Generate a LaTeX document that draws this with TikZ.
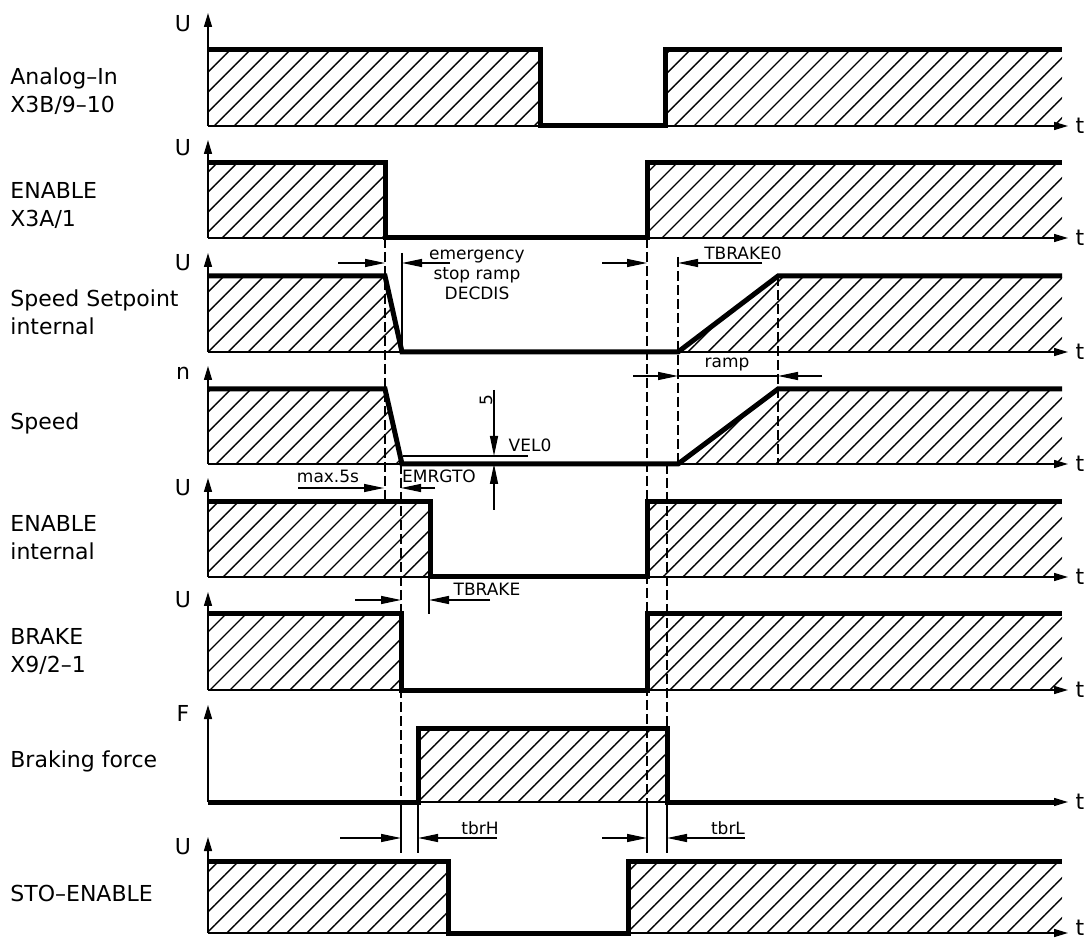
\documentclass[tikz,border=0pt]{standalone}
\usepackage{fontspec}
\setmainfont{DejaVu Sans}
\usetikzlibrary{arrows.meta,patterns.meta}
\tikzset{
  wave/.style={line width=2.5pt,line join=miter},
  hatched/.style={pattern={Lines[angle=45,distance=7.07pt,line width=0.7pt]}},
  axis/.style={line width=0.75pt,-{Triangle[length=7pt,width=4pt]}},
  dim/.style={line width=0.65pt,-{Triangle[length=10pt,width=4pt]}},
  guide/.style={line width=0.6pt,dash pattern=on 5pt off 2pt},
  tick/.style={line width=0.65pt},
  lbl/.style={anchor=west,align=left,inner sep=0pt,font=\fontsize{11}{14}\selectfont},
  sym/.style={inner sep=0pt,font=\fontsize{11}{14}\selectfont},
  dimtxt/.style={inner sep=0pt,align=center,font=\fontsize{8.5}{10}\selectfont}
}

\begin{document}
\begin{tikzpicture}[x=0.5pt,y=-0.5pt]
\useasboundingbox (0,0) rectangle (1087,940);
% hatched areas
\fill[hatched] (208,50) rectangle (540,126) (665,50) rectangle (1062,126);
\fill[hatched] (208,163) rectangle (385,238) (647,163) rectangle (1062,238);
\fill[hatched] (208,276) -- (385,276) -- (402,352) -- (208,352) -- cycle
               (678,352) -- (778,276) -- (1062,276) -- (1062,352) -- cycle;
\fill[hatched] (208,389) -- (385,389) -- (402,464) -- (208,464) -- cycle
               (678,464) -- (778,389) -- (1062,389) -- (1062,464) -- cycle;
\fill[hatched] (208,502) rectangle (430,577) (647,502) rectangle (1062,577);
\fill[hatched] (208,614) rectangle (401,690) (647,614) rectangle (1062,690);
\fill[hatched] (418,728) rectangle (667,802);
\fill[hatched] (208,861) rectangle (448,933) (628,861) rectangle (1062,933);
% axes
\foreach \b/\tp/\s/\sy/\ty in {126/13/U/24/126, 238/140/U/148/238, 352/253/U/263/352,
                               464/366/n/373/464, 577/478/U/488/577, 690/592/U/600/690,
                               802/705/F/713/802, 933/837/U/847/928} {
  \draw[axis] (208,\b) -- (208,\tp);
  \draw[axis] (208,\b) -- (1068,\b);
  \node[sym] (s\b) at (183,\sy) {\s};
  \node[sym] (t\b) at (1080,\ty) {t};
}
% signals
\draw[wave] (208,50) -- (540,50) -- (540,126) -- (665,126) -- (665,50) -- (1062,50);
\draw[wave] (208,163) -- (385,163) -- (385,238) -- (647,238) -- (647,163) -- (1062,163);
\draw[wave] (208,276) -- (385,276) -- (402,352) -- (678,352) -- (778,276) -- (1062,276);
\draw[wave] (208,389) -- (385,389) -- (402,464) -- (678,464) -- (778,389) -- (1062,389);
\draw[wave] (208,502) -- (430,502) -- (430,577) -- (647,577) -- (647,502) -- (1062,502);
\draw[wave] (208,614) -- (401,614) -- (401,690) -- (647,690) -- (647,614) -- (1062,614);
\draw[wave] (208,802) -- (418,802) -- (418,728) -- (667,728) -- (667,802) -- (1056,802);
\draw[wave] (208,861) -- (448,861) -- (448,933) -- (628,933) -- (628,861) -- (1062,861);
% guide lines
\draw[guide] (385,238) -- (385,502);
\draw[guide] (401,464) -- (401,802);
\draw[guide] (647,238) -- (647,802);
\draw[guide] (678,257) -- (678,464);
\draw[guide] (667,464) -- (667,728);
\draw[guide] (778,276) -- (778,464);
\draw[tick] (402,253) -- (402,352);
\draw[tick] (429,577) -- (429,614);
\foreach \x in {401,418,647,667}
  \draw[tick] (\x,802) -- (\x,853);
% dimensions
\draw[dim] (338,263) -- (385,263);
\draw[dim] (450,263) -- (402,263);
\draw[dim] (602,263) -- (647,263);
\draw[dim] (762,263) -- (678,263);
\draw[dim] (633,376) -- (678,376);
\draw[dim] (822,376) -- (778,376);
\draw[tick] (678,376) -- (778,376);
\draw[dim] (494,390) -- (494,456);
\draw[dim] (494,510) -- (494,464);
\draw[tick] (403,456) -- (528,456);
\draw[dim] (298,488) -- (384,488);
\draw[dim] (435,488) -- (401,488);
\draw[dim] (355,600) -- (401,600);
\draw[dim] (490,600) -- (429,600);
\draw[dim] (340,838) -- (401,838);
\draw[dim] (497,838) -- (418,838);
\draw[dim] (602,838) -- (647,838);
\draw[dim] (745,838) -- (667,838);
\node[dimtxt] (decdis) at (477,275) {emergency\\stop ramp\\DECDIS};
\node[dimtxt] (tbrakezero) at (743,253) {TBRAKE0};
\node[dimtxt] (ramp) at (727,365) {ramp};
\node[dimtxt,rotate=90] (five) at (486,400) {5};
\node[dimtxt] (velzero) at (530,445) {VEL0};
\node[dimtxt] (maxfive) at (328,476) {max.5s};
\node[dimtxt] (emrgto) at (439,476) {EMRGTO};
\node[dimtxt] (tbrake) at (487,589) {TBRAKE};
\node[dimtxt] (tbrh) at (480,828) {tbrH};
\node[dimtxt] (tbrl) at (728,828) {tbrL};
% signal names
\node[lbl] (analog) at (10,91) {Analog–In\\X3B/9–10};
\node[lbl] (enable) at (10,206) {ENABLE\\X3A/1};
\node[lbl] (setpoint) at (10,312) {Speed Setpoint\\internal};
\node[lbl] (speed) at (10,423) {Speed};
\node[lbl] (enableint) at (10,538) {ENABLE\\internal};
\node[lbl] (brake) at (10,652) {BRAKE\\X9/2–1};
\node[lbl] (force) at (10,761) {Braking force};
\node[lbl] (sto) at (10,893) {STO–ENABLE};
\end{tikzpicture}
\end{document}
